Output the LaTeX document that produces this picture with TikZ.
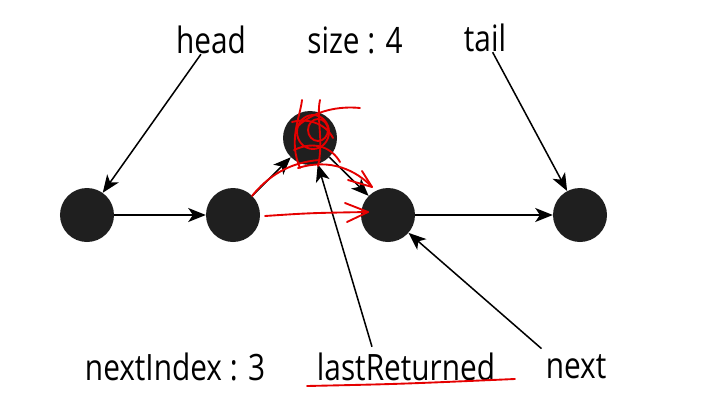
\documentclass[tikz,border=0pt]{standalone}
\usepackage{fontspec}
\setmainfont[FakeStretch=0.82]{Open Sans}
\usetikzlibrary{arrows.meta,calc}

\begin{document}
\begin{tikzpicture}[x=0.03cm,y=-0.03cm,
	dot/.style={circle,fill=black!88,minimum size=1.62cm,inner sep=0pt},
	lbl/.style={font=\fontsize{31}{36}\selectfont,inner sep=0pt},
	arr/.style={-{Stealth[length=15pt,width=12pt,inset=4pt]},line width=1.3pt},
	redpen/.style={red!90!black,line width=1.6pt,line cap=round,line join=round}]
	\useasboundingbox (0,0) rectangle (719,419);

	% Cac nut cua danh sach
	\node[dot] (n1) at (87,215) {};
	\node[dot] (n2) at (233,215) {};
	\node[dot] (n3) at (310,138) {};
	\node[dot] (n4) at (388,215) {};
	\node[dot] (n5) at (580,215) {};

	% Nhan
	\node[lbl] (head) at (211,40) {head};
	\node[lbl] (size) at (355,40) {size : 4};
	\node[lbl] (tail) at (485,38) {tail};
	\node[lbl] (nextIdx) at (175,367) {nextIndex : 3};
	\node[lbl] (lastRet) at (406,367) {lastReturned};
	\node[lbl] (next) at (576,367) {next};
	\coordinate (lastFoot) at ($(lastRet.north)+(-34,-6)$);
	\coordinate (nextFoot) at ($(next.north west)+(-4,-6)$);

	% Lien ket
	\draw[arr] (head) -- (n1);
	\draw[arr] (tail) -- (n5);
	\draw[arr] (n1) -- (n2);
	\draw[arr] (n2) -- (n3);
	\draw[arr] (n3) -- (n4);
	\draw[arr] (n4) -- (n5);
	\draw[arr] (lastFoot) -- (n3);
	\draw[arr] (nextFoot) -- (n4);

	% Ghi chu tay mau do
	\draw[redpen] (265,216) .. controls (310,213) .. (368,212);
	\draw[redpen] (345,203) -- (368,212) -- (347,222);
	\draw[redpen] (252,196) .. controls (268,176) and (290,162) .. (320,160);
	\draw[redpen] (298,168) .. controls (330,158) and (356,170) .. (372,187);
	\draw[redpen] (348,180) -- (372,187) -- (362,171);
	\draw[redpen] (313,132) ellipse (16 and 17);
	\draw[redpen] (318,130) ellipse (10 and 11);
	\draw[redpen] (300,168) .. controls (288,140) and (300,118) .. (302,100);
	\draw[redpen] (318,166) .. controls (324,140) and (316,118) .. (320,100);
	\draw[redpen] (298,126) .. controls (315,110) and (340,106) .. (360,108);
	\draw[redpen] (294,150) .. controls (315,140) and (332,148) .. (340,162);
	\draw[redpen] (292,122) .. controls (305,118) and (325,122) .. (333,138);
	\draw[redpen] (307,386) .. controls (400,384) .. (515,379);
\end{tikzpicture}
\end{document}
